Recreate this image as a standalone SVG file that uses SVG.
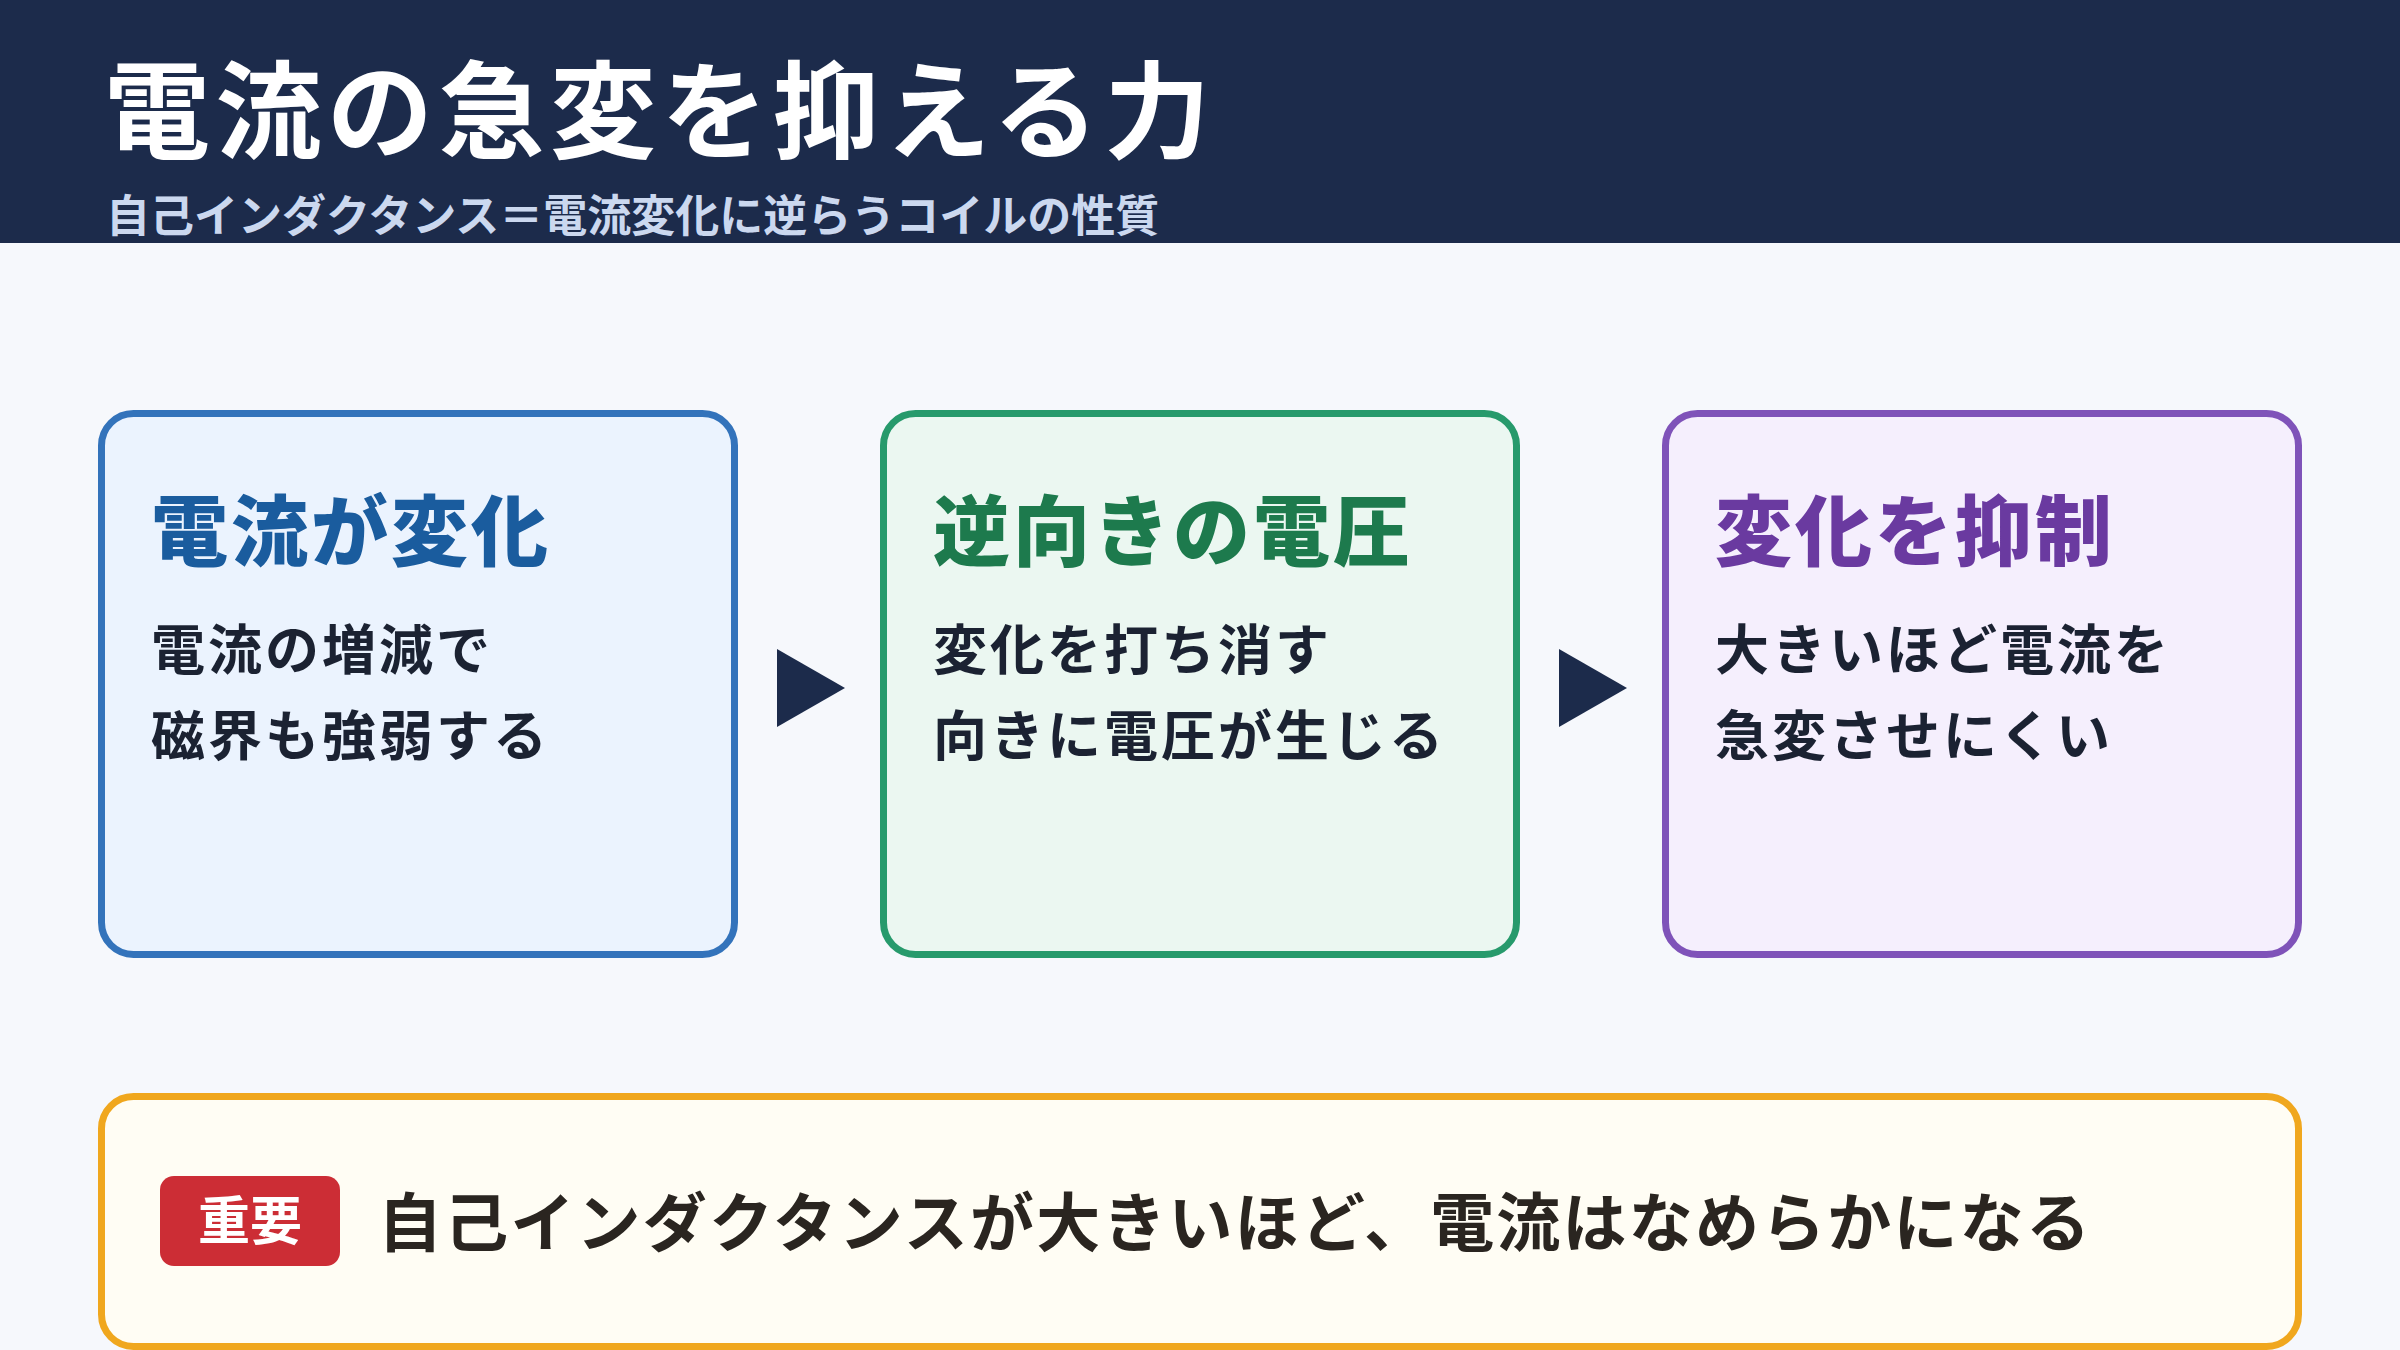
<svg xmlns="http://www.w3.org/2000/svg" width="2400" height="1350" viewBox="0 0 2400 1350">
<style>
text{font-family:"Noto Sans CJK JP","Noto Sans CJK SC",sans-serif;font-weight:700}
.card{stroke-width:7}
.ct{font-size:77px;letter-spacing:3px;font-weight:900}
.cb{font-size:54px;fill:#1b2232;letter-spacing:3px}
</style>
<rect x="0" y="0" width="2400" height="1350" fill="#f6f8fc"/>
<g id="header">
<rect x="0" y="0" width="2400" height="243" fill="#1c2b4b"/>
<text x="104" y="150" font-size="106" fill="#ffffff" letter-spacing="5.5" font-weight="900">電流の急変を抑える力</text>
<text x="106" y="232" font-size="44" fill="#cbd8ef">自己インダクタンス＝電流変化に逆らうコイルの性質</text>
</g>
<g id="card1">
<rect class="card" x="101.5" y="413.5" width="633" height="541" rx="32" fill="#ebf3fe" stroke="#3373bb"/>
<text class="ct" x="151" y="560" fill="#1a5c9e">電流が変化</text>
<text class="cb" x="151" y="670">電流の増減で</text>
<text class="cb" x="151" y="756">磁界も強弱する</text>
</g>
<g id="card2">
<rect class="card" x="883.5" y="413.5" width="633" height="541" rx="32" fill="#ebf7f1" stroke="#279a6c"/>
<text class="ct" x="933" y="560" fill="#1d7a4d">逆向きの電圧</text>
<text class="cb" x="933" y="670">変化を打ち消す</text>
<text class="cb" x="933" y="756">向きに電圧が生じる</text>
</g>
<g id="card3">
<rect class="card" x="1665.5" y="413.5" width="633" height="541" rx="32" fill="#f5effd" stroke="#7f53b9"/>
<text class="ct" x="1715" y="560" fill="#6a3aa0">変化を抑制</text>
<text class="cb" x="1715" y="670">大きいほど電流を</text>
<text class="cb" x="1715" y="756">急変させにくい</text>
</g>
<g id="connectors" fill="#1c2b4b">
<polygon points="777,649 777,727 845,688"/>
<polygon points="1559,649 1559,727 1627,688"/>
</g>
<g id="note">
<rect x="101.5" y="1096.5" width="2197" height="250" rx="32" fill="#fffdf4" stroke="#f0a71e" stroke-width="7"/>
<rect x="160" y="1176" width="180" height="90" rx="14" fill="#cc2d35"/>
<text x="250" y="1240" font-size="52" fill="#ffffff" text-anchor="middle" font-weight="900">重要</text>
<text x="378" y="1246" font-size="64" fill="#2a2520" letter-spacing="2.2" font-weight="900">自己インダクタンスが大きいほど、電流はなめらかになる</text>
</g>
</svg>
